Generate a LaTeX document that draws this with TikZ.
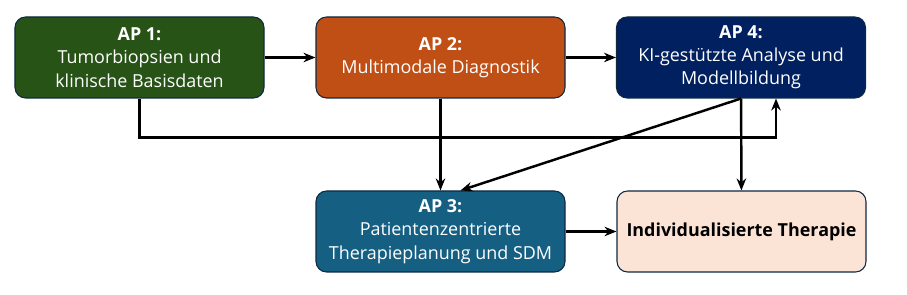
\documentclass[tikz,border=0pt]{standalone}
\usepackage{fontspec}
\setmainfont{Open Sans}
\usetikzlibrary{arrows.meta,positioning}
\definecolor{forest}{RGB}{39,83,23}
\definecolor{rust}{RGB}{192,79,21}
\definecolor{navy}{RGB}{0,32,96}
\definecolor{teal}{RGB}{21,96,130}
\definecolor{peach}{RGB}{251,227,214}
\definecolor{rim}{RGB}{14,40,65}
\tikzset{
  >={Stealth[length=2.4mm,width=1.9mm]},
  ap/.style={draw=rim,fill=#1,text=white,rounded corners=6pt,line width=0.6pt,
    minimum width=49.8mm,minimum height=16.2mm,align=center,font=\fontsize{10.2}{13.2}\selectfont},
  ap/.default=teal,
  goal/.style={ap=peach,text=black,font=\fontsize{10.2}{13.2}\selectfont\bfseries},
  flow/.style={->,line width=1.4pt,draw=black},
}
\begin{document}
\begin{tikzpicture}
  \useasboundingbox (0,0) rectangle (18.14,-5.9);
  \node[ap=forest] (ap1) at (2.79,-1.15) {\textbf{AP 1:}\\Tumorbiopsien und\\klinische Basisdaten};
  \node[ap=rust] (ap2) at (8.81,-1.15) {\textbf{AP 2:}\\Multimodale Diagnostik};
  \node[ap=navy] (ap4) at (14.82,-1.15) {\textbf{AP 4:}\\KI-gestützte Analyse und\\Modellbildung};
  \node[ap=teal] (ap3) at (8.81,-4.63) {\textbf{AP 3:}\\Patientenzentrierte\\Therapieplanung und SDM};
  \node[goal] (ther) at (14.83,-4.63) {Individualisierte Therapie};
  % top row
  \draw[flow] (ap1) -- (ap2);
  \draw[flow] (ap2) -- (ap4);
  % feedback and downward links
  \draw[flow] (ap1.south) -- ++(0,-0.78) -| ([xshift=7mm]ap4.south);
  \draw[flow] (ap2) -- (ap3);
  \draw[flow] (ap4.south) -- ([xshift=4mm]ap3.north);
  \draw[flow] (ap4) -- (ther);
  \draw[flow] (ap3) -- (ther);
\end{tikzpicture}
\end{document}
